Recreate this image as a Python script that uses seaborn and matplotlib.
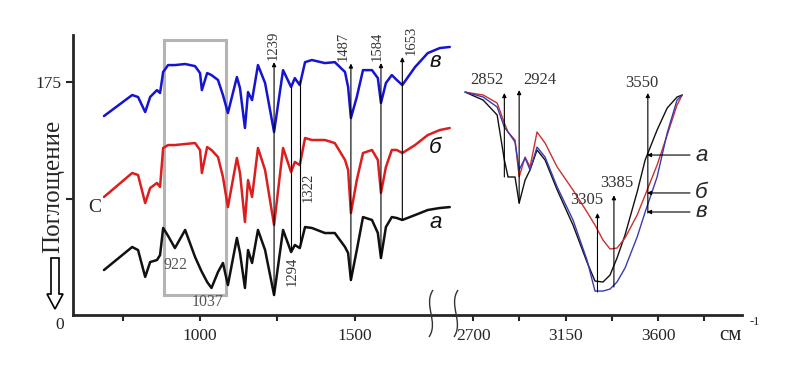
import matplotlib
matplotlib.use("Agg")
import matplotlib.pyplot as plt
import matplotlib.patches as mpatches
from matplotlib.path import Path
import seaborn as sns

# ИК-спектры образцов а, б, в (поглощение, усл. ед.)
# область 690-1810 см-1
wn_left = [690, 781, 800, 823, 839, 861, 871, 881, 897, 919, 952, 984, 1000, 1006,
           1023, 1037, 1058, 1074, 1090, 1119, 1129, 1145, 1155, 1168, 1187, 1210,
           1239, 1268, 1294, 1306, 1322, 1339, 1361, 1403, 1435, 1468, 1478, 1487,
           1506, 1526, 1555, 1574, 1584, 1600, 1619, 1635, 1653, 1694, 1735, 1774, 1806]
v_left = [149.5, 165.3, 163.8, 152.5, 163.8, 169, 166.8, 182.6, 187.8, 187.8, 188.6, 187,
          181.8, 169, 181.8, 180.3, 176.6, 165.3, 151.8, 178.8, 170.5, 140.5, 167.5, 161.5,
          187.8, 174.3, 137.5, 184, 171.3, 178, 172.8, 190, 191.6, 189.3, 190, 182.6, 171.3,
          148, 163.8, 184, 184, 178, 159.3, 174.3, 180.3, 176.6, 172.8, 186.3, 196.8, 200.6, 201.4]
b_left = [88.7, 106.7, 105.2, 84.1, 95.4, 99.2, 96.2, 125.5, 127.7, 127.7, 128.5, 129.2,
          124, 106.7, 126.2, 124, 118.7, 103.7, 81.1, 118, 106.7, 69.9, 101.4, 88.7, 125.5,
          108.9, 67.6, 125.5, 107.4, 115, 112.7, 133, 131.5, 131.5, 129.2, 116.5, 109, 76.6,
          101.4, 121.7, 124, 116.5, 91.7, 111.2, 124, 124, 121.7, 127.7, 135.2, 139, 140.5]
a_left = [33.8, 51.1, 48.8, 28.6, 39.8, 41.3, 45, 65.4, 59.4, 50.3, 63.9, 43.6, 35.3, 32.3,
          24.8, 20.3, 32.3, 39.1, 22.5, 57.9, 46.6, 20.3, 48.8, 39.1, 63.9, 48.8, 15, 63.9,
          47.3, 52.6, 50.3, 66.1, 65.4, 61.6, 61.6, 51.1, 46.6, 26.3, 48.8, 73.6, 71.4, 61.6,
          42.8, 66.1, 73.6, 72.9, 71.4, 75.1, 78.9, 80.4, 81.1]

# область 2660-3720 см-1
wn_right = [2661, 2749, 2817, 2852, 2870, 2904, 2924, 2953, 2977, 3011, 3050, 3109, 3186,
            3254, 3293, 3332, 3366, 3400, 3439, 3498, 3537, 3595, 3644, 3692, 3717]
v_right = [167.5, 163.8, 156.3, 141.2, 137.5, 130, 109, 118, 109, 126.2, 118.7, 96.2, 71.4,
           41.3, 18, 18, 19.5, 24.8, 35.3, 58.6, 77.4, 103.7, 136.7, 161.5, 165.3]
b_right = [167.5, 165.3, 159.3, 144.3, 137.5, 131.5, 103.7, 118.7, 111.2, 137.5, 129.2, 111.2,
           93.9, 77.4, 67.6, 56.3, 49.6, 50.3, 57.9, 75.1, 90.2, 112.7, 135.2, 157.8, 165.3]
a_right = [167.5, 161.5, 150.3, 116.5, 103.7, 103.7, 84.1, 101.4, 109, 124, 116.5, 94, 67.6,
           39.8, 25.5, 24.8, 30, 42.8, 60.1, 92.4, 116.5, 139, 155.5, 163.8, 165.3]

# отмеченные полосы: (волновое число, низ линии, верх линии)
peaks_up_left = [(1239, 15, 190), (1487, 26, 189), (1584, 42.8, 189.3), (1653, 71.4, 193.8)]
peaks_plain_left = [(1294, 48.8, 171.3), (1322, 54, 176.6)]
peaks_right = [(2852, 103.7, 166.8), (2924, 84, 169), (3550, 76.6, 166.8),
               (3305, 17.3, 76.6), (3385, 21, 90)]

sns.set_style("ticks")
plt.rcParams['font.family'] = ['Liberation Serif', 'DejaVu Serif']

W, H = 794, 367
fig = plt.figure(figsize=(W / 100, H / 100), dpi=100)
ax1 = fig.add_axes([73 / W, 52 / H, 382 / W, 280 / H])
ax2 = fig.add_axes([455 / W, 52 / H, 287 / W, 280 / H])

BLUE, RED, BLACK = "#1414d2", "#dc1e1e", "#111111"

for y, c in [(v_left, BLUE), (b_left, RED), (a_left, BLACK)]:
    sns.lineplot(x=wn_left, y=y, ax=ax1, color=c, lw=1.8, sort=False, estimator=None)
for y, c in [(a_right, BLACK), (b_right, "#cc3030"), (v_right, "#3a3ab4")]:
    sns.lineplot(x=wn_right, y=y, ax=ax2, color=c, lw=1.0, sort=False, estimator=None)

ymax = 210.4
ax1.set_xlim(590, 1823)
ax2.set_xlim(2612, 4008)
for ax in (ax1, ax2):
    ax.set_ylim(0, ymax)
    ax.set_xlabel("")
    ax.set_ylabel("")
    ax.spines['top'].set_visible(False)
    ax.spines['right'].set_visible(False)
    ax.spines['bottom'].set_linewidth(2)
    ax.tick_params(axis='x', length=4, width=1.5, pad=5, labelsize=12.5)
ax1.spines['left'].set_linewidth(2)
ax2.spines['left'].set_visible(False)
ax2.set_yticks([])

ax1.set_xticks([750, 1000, 1250, 1500])
ax1.set_xticklabels(["", "1000", "", "1500"])
ax2.set_xticks([2700, 2925, 3150, 3375, 3600, 3825])
ax2.set_xticklabels(["2700", "", "3150", "", "3600", ""])
ax1.set_yticks([87.5, 175])
ax1.set_yticklabels(["", "175"])
ax1.tick_params(axis='y', length=5, width=1.5, pad=3, labelsize=12.5)
fig.text(60 / W, 1 - 325 / H, "0", ha='center', va='center', fontsize=12.5)

# серая рамка 884-1084
ax1.add_patch(mpatches.Rectangle((884, 15), 200, 191.6, fill=False,
                                 ec="#b4b4b4", lw=2.2, zorder=1))
ax1.text(921, 37.6, "922", fontsize=11.5, color="#555555", ha='center', va='center')
ax1.text(1023, 9.5, "1037", fontsize=11.5, color="#555555", ha='center', va='center')

arrow = dict(arrowstyle='-|>', lw=0.8, color='black', mutation_scale=6,
             shrinkA=0, shrinkB=0)
label_x = {1239: 1235, 1487: 1461, 1584: 1571, 1653: 1681}
for x, lo, hi in peaks_up_left:
    ax1.annotate("", xy=(x, hi), xytext=(x, lo), arrowprops=arrow)
    ax1.text(label_x[x], hi + 1.5, str(x), rotation=90, ha='center', va='bottom',
             fontsize=10.5, color="#333333")
for x, lo, hi in peaks_plain_left:
    ax1.plot([x, x], [lo, hi], color='black', lw=0.8)
ax1.text(1297, 43.6, "1294", rotation=90, ha='center', va='top', fontsize=10.5, color="#333333")
ax1.text(1348, 96, "1322", rotation=90, ha='center', va='center', fontsize=10.5, color="#333333")

ax1.text(661, 81, "С", fontsize=14, ha='center', va='center')
for txt, y in [("в", 190.5), ("б", 126), ("а", 69.5)]:
    ax1.text(1760, y, txt, fontsize=16, style='italic', family='Liberation Sans',
             ha='center', va='center', color=BLACK)

label_pos = {2852: (2768, 176.6), 2924: (3026, 176.6), 3550: (3522, 174.3),
             3305: (3254, 86.4), 3385: (3400, 99.2)}
for x, lo, hi in peaks_right:
    ax2.annotate("", xy=(x, hi), xytext=(x, lo), arrowprops=arrow)
    lx, ly = label_pos[x]
    ax2.text(lx, ly, str(x), ha='center', va='center', fontsize=12, color="#333333")

for txt, y in [("а", 120.2), ("б", 91.7), ("в", 77.4)]:
    ax2.annotate("", xy=(3546, y), xytext=(3755, y), arrowprops=arrow)
    ax2.text(3810, y, txt, fontsize=16, style='italic', family='Liberation Sans',
             ha='center', va='center')

# подпись оси и полая стрелка вниз
fig.text(53 / W, 1 - 186 / H, "Поглощение", rotation=90, ha='center', va='center', fontsize=18)
fig.add_artist(mpatches.FancyArrow(0.55, (H - 258) / 100, 0, -0.51, width=0.08,
                                   head_width=0.16, head_length=0.15,
                                   length_includes_head=True, transform=fig.dpi_scale_trans,
                                   fc='white', ec='black', lw=1.2))

fig.text(730 / W, 1 - 336 / H, "см", ha='center', va='center', fontsize=15)
fig.text(750 / W, 1 - 322 / H, "-1", ha='left', va='center', fontsize=9)

# знаки разрыва оси
for x0 in (431, 456):
    pts = [(x0 + 2, 290), (x0 - 8, 305), (x0 + 8, 322), (x0 - 2, 337)]
    verts = [(px / 100, (H - py) / 100) for px, py in pts]
    path = Path(verts, [Path.MOVETO, Path.CURVE4, Path.CURVE4, Path.CURVE4])
    fig.add_artist(mpatches.PathPatch(path, fill=False, lw=1.0, ec="#333333",
                                      transform=fig.dpi_scale_trans))

fig.savefig("out.png", dpi=100)
